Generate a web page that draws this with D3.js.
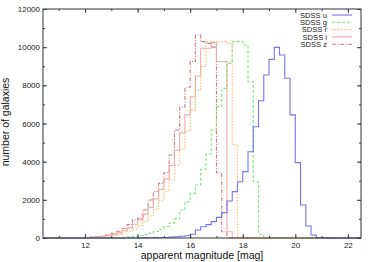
<html>
<head>
<style>
body{margin:0;background:#fff;}
text{font-family:"Liberation Sans",Arial,sans-serif;}
</style>
</head>
<body>
<svg id="graph" width="374" height="262"></svg>
<script src="https://d3js.org/d3.v7.min.js"></script>
<script>
// bin left edges 11.0 ... 21.6, width 0.2 mag
var binWidth = 0.2;
var binStart = d3.range(0,54).map(function(i){return +(11+i*binWidth).toFixed(1);});

var countsU = [0,0,0,0,0, 0,0,0,0,0, 0,0,0,0,0, 5,8,12,18,25,
	30,45,60,90,120, 200,420,590,700,860, 1080,1330,1940,2430,2950, 3480,4520,5830,7190,8540,
	9360,9990,9590,8370,6450, 3950,1730,630,160,30, 10,5,2,0];
var countsG = [0,0,0,0,0, 0,0,0,0,5, 15,25,40,60,90, 130,180,250,340,460,
	600,780,1000,1470,1900, 2340,2780,3600,4400,5660, 6900,7840,9150,10290,10290, 10110,8190,2950,200,0,
	0,0,0,0,0, 0,0,0,0,0, 0,0,0,0];
var countsR = [0,0,0,0,0, 10,20,40,60,90, 130,180,250,350,480, 650,870,1150,1500,1950,
	2450,3050,3800,4650,5600, 6700,7760,8990,10290,10290, 10290,10290,10200,4890,0, 0,0,0,0,0,
	0,0,0,0,0, 0,0,0,0,0, 0,0,0,0];
var countsI = [0,0,0,0,0, 20,40,60,90,130, 190,270,380,530,720, 950,1250,1600,2050,2550,
	3100,3800,4600,5500,6450, 7400,8490,9940,9940,10240, 9250,9250,330,0,0, 0,0,0,0,0,
	0,0,0,0,0, 0,0,0,0,0, 0,0,0,0];
var countsZ = [0,0,0,0,10, 30,50,80,120,170, 250,350,500,700,940, 1030,1470,1990,2430,2860,
	3420,4350,5660,6850,7900, 9250,10640,10290,10200,10000, 3420,330,0,0,0, 0,0,0,0,0,
	0,0,0,0,0, 0,0,0,0,0, 0,0,0,0];

var bands = ['SDSS u','SDSS g','SDSS r','SDSS i','SDSS z'];
var xTicks = [12,14,16,18,20,22];
var yTicks = [0,2000,4000,6000,8000,10000,12000];
var xLabel = 'apparent magnitude [mag]';
var yLabel = 'number of galaxies';

var series = [
	{name:bands[0],counts:countsU,color:'#7474f0',dash:null},
	{name:bands[1],counts:countsG,color:'#7ae67a',dash:'3,2'},
	{name:bands[2],counts:countsR,color:'#ffbc70',dash:'1.5,1.5'},
	{name:bands[3],counts:countsI,color:'#f4a8a8',dash:null},
	{name:bands[4],counts:countsZ,color:'#cf7c7c',dash:'4,1.5,1,1.5'}
];

var margin = {left:43,right:13,top:9,bottom:24};
var W = 374, H = 262;
var svg = d3.select('#graph');

var x = d3.scaleLinear().domain([10.4,22.5]).range([margin.left,W-margin.right]);
var y = d3.scaleLinear().domain([0,12000]).range([H-margin.bottom,margin.top]);

// histograms (drawn first so the frame is on top)
var line = d3.line()
	.x(function(d){return x(d[0]);})
	.y(function(d){return y(d[1]);})
	.curve(d3.curveStepAfter);

series.slice().reverse().forEach(function(s){
	var pts = [[x.domain()[0],0]];
	binStart.forEach(function(b,i){pts.push([b,s.counts[i]]);});
	pts.push([binStart[binStart.length-1]+binWidth,0]);
	pts.push([x.domain()[1],0]);
	svg.append('path')
		.attr('d',line(pts))
		.attr('fill','none')
		.attr('stroke',s.color)
		.attr('stroke-width',1.1)
		.attr('stroke-dasharray',s.dash);
});

// axes
var xMinor = d3.range(11,23,1);
var yMinor = d3.range(0,12001,1000);

var axB = svg.append('g').attr('transform','translate(0,'+(H-margin.bottom)+')');
axB.call(d3.axisBottom(x).tickValues(xMinor).tickSize(-2).tickFormat(''));
axB.append('g').call(d3.axisBottom(x).tickValues(xTicks).tickSize(-4).tickPadding(4));
var axT = svg.append('g').attr('transform','translate(0,'+margin.top+')');
axT.call(d3.axisTop(x).tickValues(xMinor).tickSize(-2).tickFormat(''));
axT.append('g').call(d3.axisTop(x).tickValues(xTicks).tickSize(-4).tickFormat(''));

var axL = svg.append('g').attr('transform','translate('+margin.left+',0)');
axL.call(d3.axisLeft(y).tickValues(yMinor).tickSize(-2).tickFormat(''));
axL.append('g').call(d3.axisLeft(y).tickValues(yTicks).tickSize(-4).tickPadding(3).tickFormat(d3.format('d')));
var axR = svg.append('g').attr('transform','translate('+(W-margin.right)+',0)');
axR.call(d3.axisRight(y).tickValues(yMinor).tickSize(-2).tickFormat(''));
axR.append('g').call(d3.axisRight(y).tickValues(yTicks).tickSize(-4).tickFormat(''));

svg.selectAll('.domain').remove();
svg.selectAll('.tick line').attr('stroke','#444');
svg.selectAll('.tick text').attr('font-size','8px').attr('fill','#222')
	.style('font-family','"Liberation Sans",Arial,sans-serif');

svg.append('rect')
	.attr('x',margin.left).attr('y',margin.top)
	.attr('width',W-margin.left-margin.right)
	.attr('height',H-margin.top-margin.bottom)
	.attr('fill','none').attr('stroke','#333').attr('stroke-width',1);

// labels
svg.append('text')
	.attr('x',202)
	.attr('y',259)
	.attr('text-anchor','middle')
	.attr('font-size','10.5px')
	.attr('fill','#111')
	.text(xLabel);
svg.append('text')
	.attr('transform','translate(9,122) rotate(-90)')
	.attr('text-anchor','middle')
	.attr('font-size','10.5px')
	.attr('fill','#111')
	.text(yLabel);

// legend
var leg = svg.append('g');
series.forEach(function(s,i){
	var ly = 15+i*7.3;
	leg.append('text')
		.attr('x',327).attr('y',ly+2.8)
		.attr('text-anchor','end')
		.attr('font-size','7.6px')
		.attr('fill','#222')
		.text(s.name);
	leg.append('line')
		.attr('x1',332).attr('x2',352)
		.attr('y1',ly).attr('y2',ly)
		.attr('stroke',s.color)
		.attr('stroke-width',1.1)
		.attr('stroke-dasharray',s.dash);
});
</script>
</body>
</html>
